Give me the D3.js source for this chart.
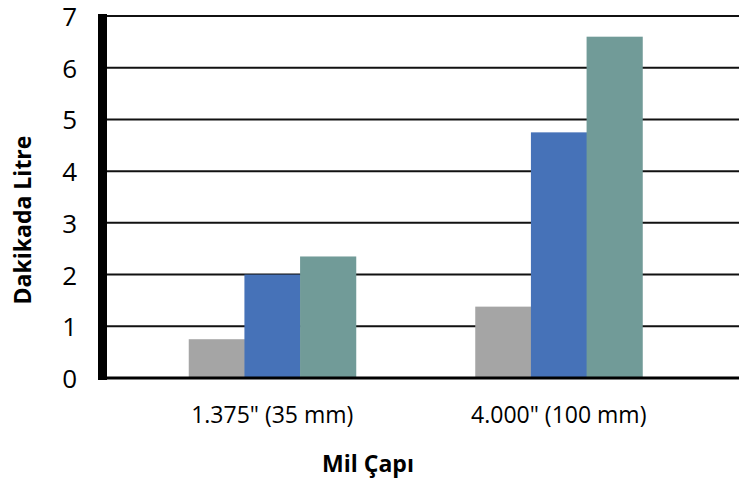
<!DOCTYPE html>
<html><head><meta charset="utf-8">
<script src="https://cdn.jsdelivr.net/npm/d3@7"></script>
<style>body{margin:0;background:#fff;} svg{display:block;font-family:"Open Sans","Noto Sans",sans-serif;}</style>
</head><body>
<svg id="c" width="739" height="480"></svg>
<script>
const categories = ['1.375" (35 mm)', '4.000" (100 mm)'];
const seriesNames = ["A", "B", "C"];
const seriesColors = ["#a5a5a5", "#4672b8", "#719b98"];
const values = [
  [0.75, 2.0, 2.35],
  [1.38, 4.75, 6.6]
];
const yTicks = [0, 1, 2, 3, 4, 5, 6, 7];

const svg = d3.select("#c");
const axisX = 102.5, gridRight = 739;
const y = d3.scaleLinear().domain([0, 7]).range([378, 16]);
const x = d3.scaleBand().domain(categories).range([129, 702]).paddingInner(0).paddingOuter(0);
const xs = d3.scaleBand().domain(seriesNames).range([0, 167]);

// gridlines
svg.append("g").selectAll("line").data(yTicks.filter(d => d > 0)).join("line")
  .attr("x1", axisX).attr("x2", gridRight)
  .attr("y1", d => y(d)).attr("y2", d => y(d))
  .attr("stroke", "#111").attr("stroke-width", 2);

// bars
const g = svg.append("g");
categories.forEach((c, i) => {
  const cx = x(c) + x.bandwidth() / 2 - 83.5;
  g.selectAll(null).data(values[i]).join("rect")
    .attr("x", (d, j) => cx + xs(seriesNames[j]))
    .attr("width", xs.bandwidth() + 0.5)
    .attr("y", d => y(d))
    .attr("height", d => y(0) - y(d))
    .attr("fill", (d, j) => seriesColors[j]);
});

// bottom axis line
svg.append("line").attr("x1", axisX).attr("x2", gridRight)
  .attr("y1", y(0)).attr("y2", y(0)).attr("stroke", "#000").attr("stroke-width", 3);
// left axis line
svg.append("line").attr("x1", axisX).attr("x2", axisX)
  .attr("y1", y(7) - 2).attr("y2", y(0) + 2).attr("stroke", "#000").attr("stroke-width", 9);

// y tick labels
svg.append("g").selectAll("text").data(yTicks).join("text")
  .attr("x", 77).attr("y", d => y(d) + 10)
  .attr("text-anchor", "end").attr("font-size", 26).attr("fill", "#000")
  .text(d => d);

// x labels
svg.append("g").selectAll("text").data(categories).join("text")
  .attr("x", d => x(d) + x.bandwidth() / 2).attr("y", 423)
  .attr("text-anchor", "middle").attr("font-size", 23).attr("fill", "#000")
  .text(d => d);

// axis titles
svg.append("text").attr("x", 368).attr("y", 472).attr("text-anchor", "middle")
  .attr("font-size", 23).attr("font-weight", "bold").text("Mil Çapı");
svg.append("text").attr("transform", "translate(31,220) rotate(-90)").attr("text-anchor", "middle")
  .attr("font-size", 23).attr("font-weight", "bold").text("Dakikada Litre");
</script>
</body></html>
